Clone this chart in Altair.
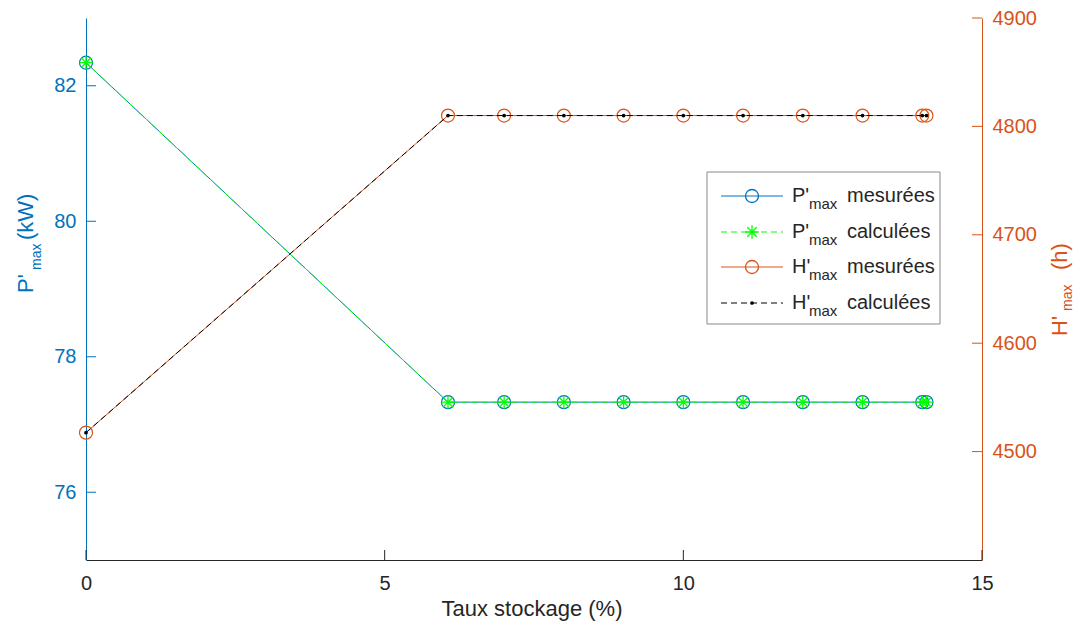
import altair as alt
import pandas as pd

# ---------------- data ----------------
taux_stockage = [0, 6.06, 7, 8, 9, 10, 11, 12, 13, 14, 14.07]
p_mesurees = [82.34, 77.33, 77.33, 77.33, 77.33, 77.33, 77.33, 77.33, 77.33, 77.33, 77.33]
p_calculees = [82.34, 77.33, 77.33, 77.33, 77.33, 77.33, 77.33, 77.33, 77.33, 77.33, 77.33]
h_mesurees = [4517.5, 4810, 4810, 4810, 4810, 4810, 4810, 4810, 4810, 4810, 4810]
h_calculees = [4517.5, 4810, 4810, 4810, 4810, 4810, 4810, 4810, 4810, 4810, 4810]

x_ticks = [0, 5, 10, 15]
p_ticks = [76, 78, 80, 82]
h_ticks = [4500, 4600, 4700, 4800, 4900]

x_domain = [0, 15]
p_domain = [75, 83]
h_domain = [4400, 4900]

legend_prefix = ["P'", "P'", "H'", "H'"]
legend_word = ["mesurées", "calculées", "mesurées", "calculées"]

# ---------------- style ----------------
BLUE = "#0072BD"
ORANGE = "#D95319"
GREEN = "#00FF00"
BLACK = "#000000"
DARK = "#262626"
FONT = "Liberation Sans"
W, H = 896, 542
ASTERISK = "M-1,0L1,0M0,-1L0,1M-0.7,-0.7L0.7,0.7M-0.7,0.7L0.7,-0.7"
DASH = [6, 4]

df = pd.DataFrame({
    "x": taux_stockage,
    "P_mes": p_mesurees,
    "P_calc": p_calculees,
    "H_mes": h_mesurees,
    "H_calc": h_calculees,
})

xscale = alt.Scale(domain=x_domain, nice=False, zero=False)
pscale = alt.Scale(domain=p_domain, nice=False, zero=False)
hscale = alt.Scale(domain=h_domain, nice=False, zero=False)

x_axis = alt.Axis(values=x_ticks, format="d", ticks=False, tickSize=0, grid=False, title=None,
                  labelFontSize=20, labelFont=FONT, labelColor=DARK, labelPadding=13,
                  labelFlush=False, domainColor=DARK, domainWidth=1)
p_axis = alt.Axis(values=p_ticks, format="d", ticks=False, tickSize=0, grid=False, title=None,
                  orient="left", labelFontSize=20, labelFont=FONT, labelColor=BLUE,
                  labelPadding=10, labelFlush=False, domainColor=BLUE, domainWidth=1)
h_axis = alt.Axis(values=h_ticks, format="d", ticks=False, tickSize=0, grid=False, title=None,
                  orient="right", labelFontSize=20, labelFont=FONT, labelColor=ORANGE,
                  labelPadding=10, labelFlush=False, domainColor=ORANGE, domainWidth=1)

base = alt.Chart(df)
X = alt.X("x:Q", scale=xscale, axis=x_axis, title=None)

# ---- left (P'max) ----
blue_line = base.mark_line(color=BLUE, strokeWidth=1).encode(
    x=X, y=alt.Y("P_mes:Q", scale=pscale, axis=p_axis, title=None))
blue_pts = base.mark_point(shape="circle", filled=False, color=BLUE, size=169,
                           strokeWidth=1.2, opacity=1).encode(
    x=alt.X("x:Q", title=None), y=alt.Y("P_mes:Q", title=None))
green_line = base.mark_line(color=GREEN, strokeWidth=1, strokeDash=DASH).encode(
    x=alt.X("x:Q", title=None), y=alt.Y("P_calc:Q", title=None))
green_pts = base.mark_point(shape=ASTERISK, filled=False, color=GREEN, size=180,
                            strokeWidth=1.3, opacity=1).encode(
    x=alt.X("x:Q", title=None), y=alt.Y("P_calc:Q", title=None))
p_tick_rules = alt.Chart(pd.DataFrame({"P_mes": p_ticks})).mark_rule(color=BLUE, strokeWidth=1).encode(
    y=alt.Y("P_mes:Q", title=None), x=alt.value(0), x2=alt.value(10))
x_tick_rules = alt.Chart(pd.DataFrame({"x": x_ticks})).mark_rule(color=DARK, strokeWidth=1).encode(
    x=alt.X("x:Q", title=None), y=alt.value(H), y2=alt.value(H - 10))

left = alt.layer(blue_line, blue_pts, green_line, green_pts, p_tick_rules, x_tick_rules)

# ---- right (H'max) ----
orange_line = base.mark_line(color=ORANGE, strokeWidth=1).encode(
    x=alt.X("x:Q", title=None), y=alt.Y("H_mes:Q", scale=hscale, axis=h_axis, title=None))
orange_pts = base.mark_point(shape="circle", filled=False, color=ORANGE, size=169,
                             strokeWidth=1.2, opacity=1).encode(
    x=alt.X("x:Q", title=None), y=alt.Y("H_mes:Q", title=None))
black_line = base.mark_line(color=BLACK, strokeWidth=1, strokeDash=DASH).encode(
    x=alt.X("x:Q", title=None), y=alt.Y("H_calc:Q", title=None))
black_pts = base.mark_point(shape="circle", filled=True, color=BLACK, size=14, opacity=1).encode(
    x=alt.X("x:Q", title=None), y=alt.Y("H_calc:Q", title=None))
h_tick_rules = alt.Chart(pd.DataFrame({"H_mes": h_ticks})).mark_rule(color=ORANGE, strokeWidth=1).encode(
    y=alt.Y("H_mes:Q", title=None), x=alt.value(W - 10), x2=alt.value(W))

right = alt.layer(orange_line, orange_pts, black_line, black_pts, h_tick_rules)

# ---- text helpers ----
one = pd.DataFrame({"k": [0]})


def txt(s, x, y, size, color, angle=0, align="left", baseline="alphabetic"):
    props = dict(text=s, fontSize=size, font=FONT, color=color, align=align, baseline=baseline)
    if angle:
        props["angle"] = angle
    return alt.Chart(one).mark_text(**props).encode(x=alt.value(x), y=alt.value(y))


# axis titles (with subscripts)
titles = [
    txt("P'", -53, 275, 22, BLUE, angle=270),
    txt("max", -45, 252, 14, BLUE, angle=270),
    txt("(kW)", -53, 222, 22, BLUE, angle=270),
    txt("H'", 981, 318, 22, ORANGE, angle=270),
    txt("max", 986, 293, 14, ORANGE, angle=270),
    txt("(h)", 981, 252, 22, ORANGE, angle=270),
    txt("Taux stockage (%)", 446, 598, 22, DARK, align="center"),
]

# ---- custom legend ----
legend_layers = [
    alt.Chart(one).mark_rect(fill="white", stroke="#8a8a8a", strokeWidth=1).encode(
        x=alt.value(621), x2=alt.value(854), y=alt.value(154), y2=alt.value(306))
]
row_y = [178, 214, 249, 285]
styles = [
    dict(color=BLUE, dash=None, shape="circle", filled=False, size=169),
    dict(color=GREEN, dash=DASH, shape=ASTERISK, filled=False, size=180),
    dict(color=ORANGE, dash=None, shape="circle", filled=False, size=169),
    dict(color=BLACK, dash=DASH, shape="circle", filled=True, size=14),
]
for i, st in enumerate(styles):
    yy = row_y[i]
    rule_kw = dict(color=st["color"], strokeWidth=1)
    if st["dash"]:
        rule_kw["strokeDash"] = st["dash"]
    legend_layers.append(alt.Chart(one).mark_rule(**rule_kw).encode(
        x=alt.value(635), x2=alt.value(697), y=alt.value(yy)))
    legend_layers.append(alt.Chart(one).mark_point(
        shape=st["shape"], filled=st["filled"], color=st["color"], size=st["size"],
        strokeWidth=1.3, opacity=1).encode(x=alt.value(666), y=alt.value(yy)))
    legend_layers.append(txt(legend_prefix[i], 706, yy + 6, 20, DARK))
    legend_layers.append(txt("max", 723, yy + 13, 15, DARK))
    legend_layers.append(txt(legend_word[i], 761, yy + 6, 20, DARK))

chart = alt.layer(left, right, *titles, *legend_layers).resolve_scale(
    y="independent"
).properties(
    width=W,
    height=H,
    padding={"left": 78, "top": 10, "right": 92, "bottom": 61},
    autosize=alt.AutoSizeParams(type="none"),
    background="white",
).configure_view(stroke=None)

chart.save("out.html", embed_options={"renderer": "svg", "actions": False})
